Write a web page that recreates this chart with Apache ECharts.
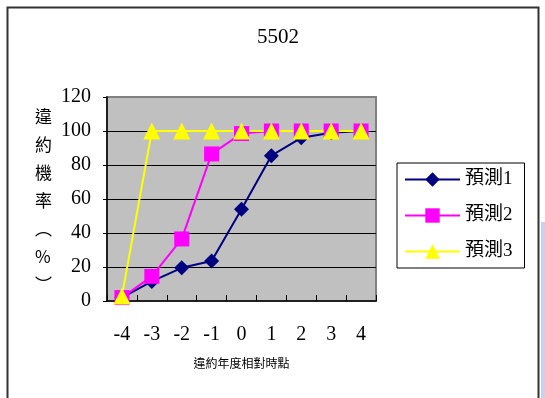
<!DOCTYPE html>
<html>
<head>
<meta charset="utf-8">
<script src="https://cdn.jsdelivr.net/npm/echarts@6/dist/echarts.min.js"></script>
<style>
  html, body { margin: 0; padding: 0; background: #fff; }
  #chart { width: 545px; height: 398px; }
</style>
</head>
<body>
<div id="chart"></div>
<script>
// Relative year of default vs. predicted default probability (%)
const categories = ['-4', '-3', '-2', '-1', '0', '1', '2', '3', '4'];
const forecast1 = [2, 11.5, 19.5, 23.5, 54, 85.5, 96, 99, 100];
const forecast2 = [2, 14.5, 36.5, 86.5, 98.5, 100, 100, 100, 100];
const forecast3 = [3, 100, 100, 100, 100, 100, 100, 100, 100];
const seriesNames = ['預測1', '預測2', '預測3'];
const yTicks = { min: 0, max: 120, interval: 20 };

const serif = "'Liberation Serif', 'Times New Roman', 'Noto Sans CJK TC', serif";
const cjk = "'Noto Sans CJK TC', sans-serif";

const chart = echarts.init(document.getElementById('chart'), null, { renderer: 'canvas' });

chart.setOption({
  animation: false,
  backgroundColor: '#ffffff',
  title: {
    text: '5502',
    left: 273,
    top: 22,
    textAlign: 'center',
    textStyle: { fontFamily: serif, fontSize: 21, fontWeight: 'normal', color: '#000' }
  },
  legend: {
    orient: 'vertical',
    left: 397,
    top: 163,
    padding: [7, 12, 7, 7],
    itemWidth: 55,
    itemHeight: 18,
    itemGap: 17,
    borderColor: '#000',
    borderWidth: 1,
    backgroundColor: '#fff',
    textStyle: { fontFamily: serif, fontSize: 19, lineHeight: 18, color: '#000' },
    data: seriesNames
  },
  grid: {
    left: 107,
    top: 97,
    width: 269,
    height: 204,
    show: true,
    backgroundColor: '#c0c0c0',
    borderColor: '#808080',
    borderWidth: 2
  },
  xAxis: {
    type: 'category',
    data: categories,
    boundaryGap: true,
    name: '違約年度相對時點',
    nameLocation: 'middle',
    nameGap: 56,
    nameTextStyle: { fontFamily: cjk, fontSize: 12, color: '#000' },
    axisLine: { show: true, lineStyle: { color: '#000', width: 1.5 } },
    axisTick: { show: true, inside: true, length: 6, lineStyle: { color: '#000' } },
    axisLabel: { margin: 24, fontFamily: serif, fontSize: 20, color: '#000' },
    splitLine: { show: false }
  },
  yAxis: {
    type: 'value',
    min: yTicks.min,
    max: yTicks.max,
    interval: yTicks.interval,
    axisLine: { show: true, lineStyle: { color: '#000', width: 1.5 } },
    axisTick: { show: true, inside: false, length: 4, lineStyle: { color: '#000' } },
    axisLabel: { margin: 16, fontFamily: serif, fontSize: 20, color: '#000' },
    splitLine: { show: true, showMinLine: false, showMaxLine: false, lineStyle: { color: '#000', width: 1 } }
  },
  graphic: [
    {
      type: 'rect',
      silent: true,
      z: -10,
      shape: { x: 7.5, y: 7.5, width: 531, height: 420 },
      style: { fill: 'none', stroke: '#333', lineWidth: 2 }
    },
    {
      type: 'rect',
      silent: true,
      z: -10,
      shape: { x: 541, y: 222, width: 4, height: 176 },
      style: { fill: '#c5d2f2' }
    },
    {
      type: 'text',
      left: 35,
      top: 103,
      style: {
        text: ['違', '約', '機', '率', '︵', '%', '︶'].join('\n'),
        font: "17px 'Noto Sans CJK TC', sans-serif",
        lineHeight: 28,
        fill: '#000',
        align: 'center'
      }
    }
  ],
  series: [
    {
      name: seriesNames[0],
      type: 'line',
      data: forecast1,
      symbol: 'diamond',
      symbolSize: 15,
      lineStyle: { color: '#000080', width: 2 },
      itemStyle: { color: '#000080' }
    },
    {
      name: seriesNames[1],
      type: 'line',
      data: forecast2,
      symbol: 'rect',
      symbolSize: 15,
      lineStyle: { color: '#ff00ff', width: 2 },
      itemStyle: { color: '#ff00ff' }
    },
    {
      name: seriesNames[2],
      type: 'line',
      data: forecast3,
      symbol: 'triangle',
      symbolSize: 17,
      lineStyle: { color: '#ffff00', width: 2 },
      itemStyle: { color: '#ffff00' }
    }
  ]
});
</script>
</body>
</html>
